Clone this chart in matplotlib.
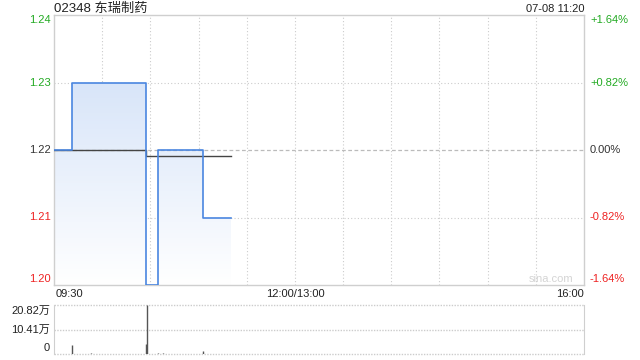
import numpy as np
import matplotlib.pyplot as plt
from matplotlib.patches import Polygon

plt.rcParams['font.family'] = ['Liberation Sans', 'Noto Sans CJK SC', 'DejaVu Sans']

# price steps (minutes since 09:30, price)
step_minutes = [0, 11, 57, 65, 93, 110]
step_prices = [1.22, 1.23, 1.20, 1.22, 1.21, 1.21]
avg_minutes = [0, 57, 110]
avg_prices = [1.22, 1.2191, 1.2191]
prev_close = 1.22

# volume bars (minute, volume in 万)
vol_minutes = [3, 11, 17, 23, 30, 38, 45, 52, 57, 58, 62, 65, 68, 74, 80, 86, 93, 99, 105]
vol_values = [0.2, 3.8, 0.2, 0.5, 0.2, 0.2, 0.2, 0.2, 4.2, 20.82, 0.2, 0.6, 0.4, 0.2, 0.2, 0.2, 1.3, 0.2, 0.2]

left_ticks = [1.24, 1.23, 1.22, 1.21, 1.20]
right_ticks = ['+1.64%', '+0.82%', '0.00%', '-0.82%', '-1.64%']
tick_colors = ['#22aa22', '#22aa22', '#333333', '#ee2222', '#ee2222']
vol_ticks = [20.82, 10.41, 0]
vol_labels = ['20.82万', '10.41万', '0']

GRID = '#cccccc'
BORDER = '#cfcfcf'
TOTAL = 330
PX_Y = 0.04 / 270      # price per pixel
PX_X = TOTAL / 530     # minutes per pixel

fig = plt.figure(figsize=(6.4, 3.6), dpi=100)
ax = fig.add_axes([54 / 640, 1 - 285 / 360, 530 / 640, 270 / 360])
vax = fig.add_axes([54 / 640, 1 - 354 / 360, 530 / 640, 49 / 360])

# main price chart
ax.set_xlim(0, TOTAL)
ax.set_ylim(1.20, 1.24)

# build step path
xs, ys = [], []
for i, (m, p) in enumerate(zip(step_minutes, step_prices)):
    if i > 0:
        xs.append(m)
        ys.append(step_prices[i - 1])
    xs.append(m)
    ys.append(p)

# gradient fill under the line
poly = Polygon(list(zip(xs, ys)) + [(xs[-1], 1.20), (xs[0], 1.20)], closed=True,
               facecolor='none', edgecolor='none')
ax.add_patch(poly)
grad = np.linspace(1, 0, 256).reshape(-1, 1)
top_c = np.array([216, 229, 249]) / 255
cols = top_c[None, None, :] * grad[:, :, None] + (1 - grad[:, :, None]) * np.ones(3)
img = ax.imshow(cols, extent=[0, TOTAL, 1.20, 1.23], aspect='auto', zorder=1,
                origin='upper')
img.set_clip_path(poly)

ax.plot(xs, ys, color='#4a86e0', lw=1.2, zorder=4)
ax.step(avg_minutes, avg_prices, where='post', color='#444444', lw=1.0, zorder=3)

# grid
for v in range(30, TOTAL, 30):
    ax.axvline(v, color=GRID, lw=0.8, ls=(0, (1, 2)), zorder=0)
for p in [1.23, 1.21]:
    ax.axhline(p, color=GRID, lw=0.8, ls=(0, (1, 2)), zorder=0)
ax.axhline(prev_close, color='#bbbbbb', lw=0.9, ls=(0, (3, 2)), zorder=2)

ax.set_xticks([])
ax.set_yticks([])
for s in ax.spines.values():
    s.set_color(BORDER)
    s.set_linewidth(1.0)

n = len(left_ticks)
for i, (val, rl, c) in enumerate(zip(left_ticks, right_ticks, tick_colors)):
    off = -5 * PX_Y if i == 0 else (6 * PX_Y if i == n - 1 else 0)
    ax.text(-3 * PX_X, val + off, f'{val:.2f}', color=c, fontsize=8, ha='right', va='center', clip_on=False)
    ax.text(TOTAL + 6 * PX_X, val + off, rl, color=c, fontsize=8, ha='left', va='center', clip_on=False)

ax.text(0, 1.0 + 3 / 270, '02348 东瑞制药', transform=ax.transAxes, fontsize=9.5,
        ha='left', va='baseline', color='#222222')
ax.text(1, 1.0 + 3 / 270, '07-08 11:20', transform=ax.transAxes, fontsize=8,
        ha='right', va='baseline', color='#222222')

ax.text(0.003, -12 / 270, '09:30', transform=ax.transAxes, fontsize=8, ha='left', va='baseline', color='#222222')
ax.text(150 / TOTAL, -12 / 270, '12:00/13:00', transform=ax.transAxes, fontsize=8, ha='center', va='baseline', color='#222222')
ax.text(1, -12 / 270, '16:00', transform=ax.transAxes, fontsize=8, ha='right', va='baseline', color='#222222')
ax.text(0.979, 3 / 270, 'sina.com', transform=ax.transAxes, fontsize=8, ha='right', va='baseline', color='#d4d4d4')

# volume chart
vax.set_xlim(0, TOTAL)
vax.set_ylim(0, 20.82)
vax.vlines(vol_minutes, 0, vol_values, color='#555555', lw=1.0, zorder=3)
for v in vol_ticks:
    vax.axhline(v, color=GRID, lw=1.0, ls=(0, (1, 1)), zorder=0, clip_on=False)
vax.set_xticks([])
vax.set_yticks([])
for k in ['top', 'bottom']:
    vax.spines[k].set_visible(False)
vax.spines['left'].set_color(BORDER)
vax.spines['right'].set_color(BORDER)
vpx = 20.82 / 49
for i, (v, lab) in enumerate(zip(vol_ticks, vol_labels)):
    off = -6 * vpx if i == 0 else (6 * vpx if i == len(vol_ticks) - 1 else 0)
    vax.text(-4 * PX_X, v + off, lab, fontsize=8, ha='right', va='center', color='#222222', clip_on=False)

fig.savefig('out.png', dpi=100, facecolor='white')
